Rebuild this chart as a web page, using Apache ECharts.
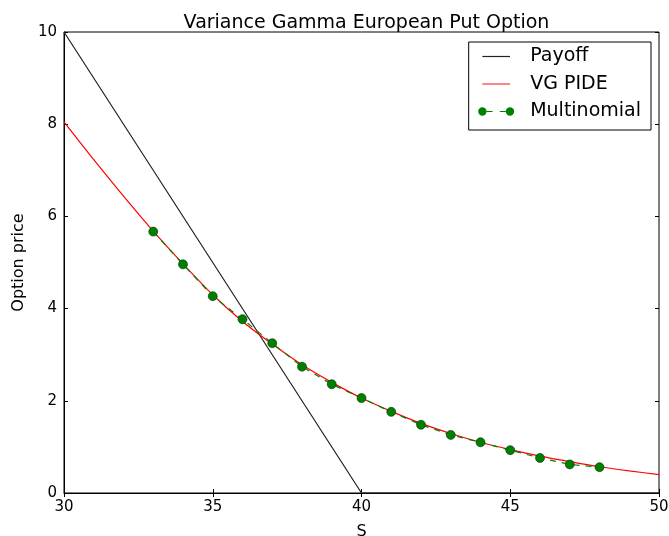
<!DOCTYPE html>
<html>
<head>
<meta charset="utf-8">
<script src="https://cdn.jsdelivr.net/npm/echarts@6/dist/echarts.min.js"></script>
<style>html,body{margin:0;padding:0;background:#fff}#c{width:669px;height:536px}</style>
</head>
<body>
<div id="c"></div>
<script>
const payoffS = [30, 40, 50];
const payoffV = [10, 0, 0];
const pideS = [30,31,32,33,34,35,36,37,38,39,40,41,42,43,44,45,46,47,48,49,50];
const pideV = [8.05,7.23,6.44,5.68,4.97,4.30,3.72,3.23,2.78,2.40,2.06,1.77,1.51,1.29,1.10,0.94,0.80,0.68,0.57,0.48,0.40];
const multiS = [33,34,35,36,37,38,39,40,41,42,43,44,45,46,47,48];
const multiV = [5.67,4.96,4.27,3.77,3.25,2.74,2.36,2.06,1.76,1.48,1.26,1.10,0.93,0.76,0.62,0.56];
const xTicks = [30,35,40,45,50];
const yTicks = [0,2,4,6,8,10];

const zip = (a, b) => a.map((v, i) => [v, b[i]]);
const font = 'DejaVu Sans';
const chart = echarts.init(document.getElementById('c'), null, {renderer: 'canvas'});
const tickStyle = {show: true, inside: true, length: 4, lineStyle: {color: '#000', width: 1}};
const lineIcon = 'path://M0,0M36,9M4.2,3.9h27.6v1.2h-27.6z';
const multiIcon = 'path://M0,0M36,9M0,4.5a4.2,4.2 0 1,0 8.4,0a4.2,4.2 0 1,0 -8.4,0zM27.6,4.5a4.2,4.2 0 1,0 8.4,0a4.2,4.2 0 1,0 -8.4,0zM8.4,3.9h6v1.2h-6zM21.6,3.9h6v1.2h-6z';
chart.setOption({
  animation: false,
  backgroundColor: '#fff',
  title: {text: 'Variance Gamma European Put Option', left: 361.5, textAlign: 'center', top: 9,
    textStyle: {fontFamily: font, fontSize: 19, fontWeight: 'normal', color: '#000'}},
  grid: {left: 64, right: 10, top: 32, bottom: 43, show: true, borderColor: '#000', borderWidth: 1,
    backgroundColor: 'transparent', containLabel: false, outerBoundsMode: 'none'},
  legend: {
    orient: 'vertical', right: 18, top: 42, itemWidth: 36, itemHeight: 9, itemGap: 8.5,
    borderColor: '#000', borderWidth: 1, padding: [5, 10, 9, 9.5], backgroundColor: '#fff',
    textStyle: {fontFamily: font, fontSize: 19, color: '#000', padding: [0, 0, 0, 11]},
    data: [
      {name: 'Payoff', icon: lineIcon},
      {name: 'VG PIDE', icon: lineIcon},
      {name: 'Multinomial', icon: multiIcon, itemStyle: {borderWidth: 0}}
    ]
  },
  xAxis: [{
    type: 'value', min: xTicks[0], max: xTicks[xTicks.length-1], interval: 5, position: 'bottom',
    name: 'S', nameLocation: 'middle', nameGap: 31,
    nameTextStyle: {fontFamily: font, fontSize: 16, color: '#000'},
    axisLine: {show: true, lineStyle: {color: '#000'}}, axisTick: tickStyle,
    axisLabel: {fontFamily: font, fontSize: 15, color: '#000', margin: 7},
    splitLine: {show: false}
  }, {
    type: 'value', min: xTicks[0], max: xTicks[xTicks.length-1], interval: 5, position: 'top',
    axisLine: {show: false}, axisTick: tickStyle, axisLabel: {show: false}, splitLine: {show: false}
  }],
  yAxis: [{
    type: 'value', min: yTicks[0], max: yTicks[yTicks.length-1], interval: 2, position: 'left',
    name: 'Option price', nameLocation: 'middle', nameGap: 35, nameRotate: 90,
    nameTextStyle: {fontFamily: font, fontSize: 16, color: '#000'},
    axisLine: {show: true, lineStyle: {color: '#000'}}, axisTick: tickStyle,
    axisLabel: {fontFamily: font, fontSize: 15, color: '#000', margin: 7},
    splitLine: {show: false}
  }, {
    type: 'value', min: yTicks[0], max: yTicks[yTicks.length-1], interval: 2, position: 'right',
    axisLine: {show: false}, axisTick: tickStyle, axisLabel: {show: false}, splitLine: {show: false}
  }],
  series: [
    {name: 'Payoff', type: 'line', data: zip(payoffS, payoffV), symbol: 'none',
     lineStyle: {color: '#222', width: 1.2}, itemStyle: {color: '#222'}},
    {name: 'VG PIDE', type: 'line', data: zip(pideS, pideV), symbol: 'none', smooth: 0.3,
     lineStyle: {color: '#ff0000', width: 1.2}, itemStyle: {color: '#ff3333'}},
    {name: 'Multinomial', type: 'line', data: zip(multiS, multiV), symbol: 'circle', symbolSize: 9,
     lineStyle: {color: '#008000', width: 1.2, type: [6, 6]},
     itemStyle: {color: '#008000', borderColor: '#003300', borderWidth: 0.6}}
  ]
});
</script>
</body>
</html>
